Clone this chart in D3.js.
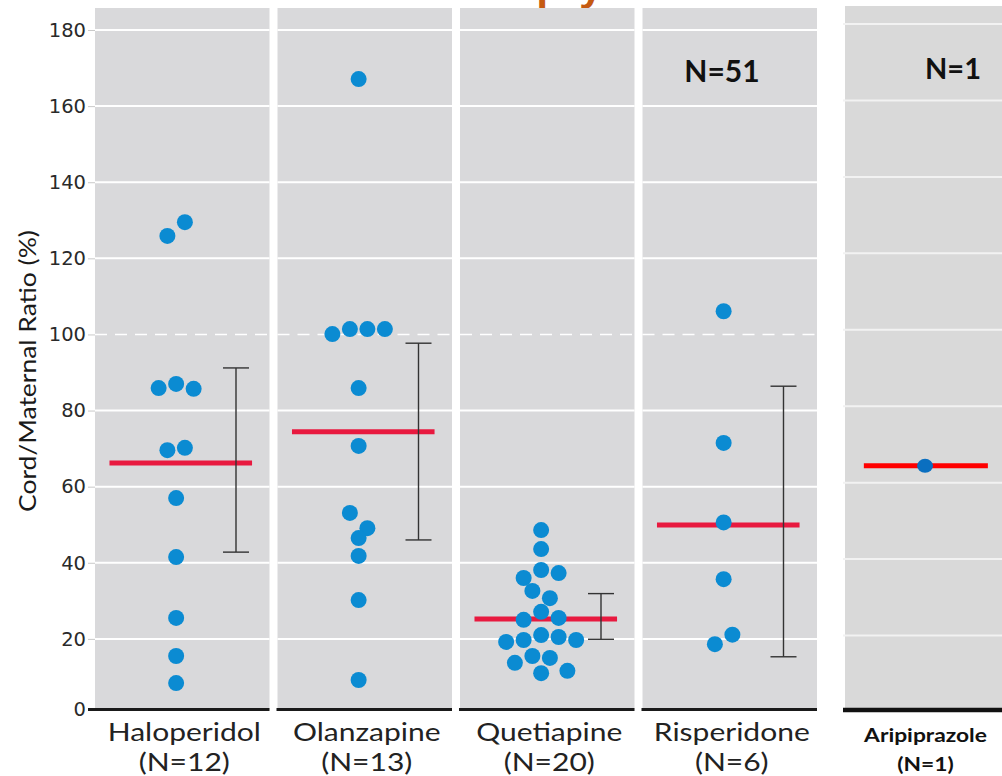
<!DOCTYPE html>
<html>
<head>
<meta charset="utf-8">
<script src="https://cdn.jsdelivr.net/npm/d3@7"></script>
<style>
  body { margin: 0; background: #fff; }
  svg { display: block; }
</style>
</head>
<body>
<svg id="chart" width="1002" height="776"></svg>
<script>
// ---- data -------------------------------------------------------------
const drugs = ["Haloperidol", "Olanzapine", "Quetiapine", "Risperidone"];
const drugCounts = ["(N=12)", "(N=13)", "(N=20)", "(N=6)"];

// cord/maternal ratios (%), listed left-to-right within each swarm row
const haloperidol = [125.9, 129.5, 85.9, 87.0, 85.7, 69.6, 70.2, 57.0, 41.5, 25.5, 15.5, 8.4];
const olanzapine  = [167.1, 100.1, 101.4, 101.4, 101.4, 85.9, 70.7, 53.1, 49.1, 46.5, 41.8, 30.2, 9.2];
const quetiapine  = [48.6, 43.6, 36.0, 38.1, 37.3, 32.6, 30.7, 25.0, 27.1, 25.5,
                     19.2, 19.7, 21.0, 20.5, 19.7, 13.7, 15.5, 15.0, 11.6, 11.0];
const risperidone = [106.1, 71.5, 50.6, 35.7, 18.6, 21.1];

const groupMeans = [66.2, 74.4, 25.2, 49.9];
const errLow     = [42.8, 46.0, 19.9, 15.3];
const errHigh    = [91.2, 97.7, 31.9, 86.4];
const pooledLabel = "N=51";

const aripName = "Aripiprazole";
const aripCount = "(N=1)";
const aripLabel = "N=1";
const aripiprazole = [64.4];
const aripMean = 64.4;

const yTicks = [0, 20, 40, 60, 80, 100, 120, 140, 160, 180];
const referenceLine = 100;
const chartTitle = "Antipsychotics";

// ---- setup ------------------------------------------------------------
const svg = d3.select("#chart");
const groups = [haloperidol, olanzapine, quetiapine, risperidone];

const y  = d3.scaleLinear().domain([0, 180]).range([715, 30]);
const y5 = d3.scaleLinear().domain([0, 180]).range([712, 24]);
const x  = d3.scaleBand().domain(drugs).range([95, 817]).paddingInner(0.0438);
const x5 = d3.scaleBand().domain([aripName]).range([845, 1002]);

const panelTop = 8, baseY = 709.5;
const panelFill = "#d9d9db";
const dotBlue = "#0b8bd2";
const meanRed = "#e8193f";
const dotR = 8, slotW = 17.5;
const stretch = 1.2;

// rows of a simple dot swarm: points closer than one dot diameter share a row
function swarm(values, scale) {
  const thr = 2 * dotR / (scale(0) - scale(1));
  const order = d3.range(values.length).sort((a, b) => values[b] - values[a] || a - b);
  const rows = [];
  let cur = null;
  for (const i of order) {
    if (!cur || values[cur.start] - values[i] > thr) { cur = { start: i, members: [] }; rows.push(cur); }
    cur.members.push(i);
  }
  const slot = new Array(values.length);
  rows.forEach(r => {
    r.members.sort((a, b) => a - b);
    r.members.forEach((i, k) => slot[i] = k - (r.members.length - 1) / 2);
  });
  return values.map((v, i) => ({ value: v, slot: slot[i] }));
}

// ---- title (runs off the top edge) ------------------------------------
svg.append("text")
  .attr("x", 455).attr("y", 0)
  .attr("textLength", 285).attr("lengthAdjust", "spacingAndGlyphs")
  .style("font", "bold 36px 'Open Sans'")
  .attr("fill", "#c55a11")
  .text(chartTitle);

// ---- panels -----------------------------------------------------------
const panels = svg.append("g");
drugs.forEach(d => {
  const x0 = x(d), bw = x.bandwidth();
  panels.append("rect")
    .attr("x", x0).attr("y", panelTop)
    .attr("width", bw).attr("height", baseY - panelTop)
    .attr("fill", panelFill);
  yTicks.filter(t => t > 0 && t !== referenceLine).forEach(t => {
    panels.append("line")
      .attr("x1", x0).attr("x2", x0 + bw)
      .attr("y1", y(t)).attr("y2", y(t))
      .attr("stroke", "#fff").attr("stroke-width", 2);
  });
  panels.append("line")
    .attr("x1", x0).attr("x2", x0 + bw)
    .attr("y1", y(referenceLine)).attr("y2", y(referenceLine))
    .attr("stroke", "#fff").attr("stroke-width", 1.6)
    .attr("stroke-dasharray", "12,8");
  panels.append("line")
    .attr("x1", x0 - 1).attr("x2", x0 + bw)
    .attr("y1", baseY).attr("y2", baseY)
    .attr("stroke", "#1a1a1a").attr("stroke-width", 3);
});

// aripiprazole panel
{
  const x0 = x5(aripName), bw = x5.bandwidth();
  panels.append("rect")
    .attr("x", x0).attr("y", 6)
    .attr("width", bw).attr("height", baseY - 6)
    .attr("fill", "#d9d9d9");
  yTicks.filter(t => t > 0).forEach(t => {
    panels.append("line")
      .attr("x1", x0 - 2).attr("x2", x0 + bw)
      .attr("y1", y5(t)).attr("y2", y5(t))
      .attr("stroke", "#f2f2f2").attr("stroke-width", 2);
  });
  panels.append("line")
    .attr("x1", x0 - 2).attr("x2", x0 + bw)
    .attr("y1", 710).attr("y2", 710)
    .attr("stroke", "#111").attr("stroke-width", 4.5);
}

// ---- y axis -----------------------------------------------------------
const axis = svg.append("g")
  .attr("transform", "translate(95,0)")
  .call(d3.axisLeft(y).tickValues(yTicks).tickSize(7).tickPadding(2));
axis.select(".domain").remove();
axis.selectAll(".tick line").attr("stroke", "#c9c9c9");
axis.selectAll(".tick text")
  .attr("fill", "#2a2a2a")
  .style("font", "19.5px 'DejaVu Sans'");
// the zero tick sits on the panel baseline
axis.selectAll(".tick").filter(d => d === 0)
  .attr("transform", `translate(0,${baseY})`)
  .select("line").attr("stroke", "#1a1a1a").attr("stroke-width", 3);

svg.append("text")
  .attr("transform", "translate(36,371) rotate(-90) scale(1.15,1)")
  .attr("text-anchor", "middle")
  .attr("fill", "#1a1a1a")
  .style("font", "23px Lato")
  .text("Cord/Maternal Ratio (%)");

// ---- means, error bars, points -----------------------------------------
const marks = svg.append("g");
drugs.forEach((d, i) => {
  const x0 = x(d), bw = x.bandwidth();
  marks.append("line")
    .attr("x1", x0 + 0.083 * bw).attr("x2", x0 + 0.9 * bw)
    .attr("y1", y(groupMeans[i])).attr("y2", y(groupMeans[i]))
    .attr("stroke", meanRed).attr("stroke-width", 5);

  const ex = x0 + 0.808 * bw;
  const eb = marks.append("g").attr("stroke", "#333").attr("stroke-width", 1.4);
  eb.append("line").attr("x1", ex).attr("x2", ex).attr("y1", y(errHigh[i])).attr("y2", y(errLow[i]));
  [errHigh[i], errLow[i]].forEach(v =>
    eb.append("line").attr("x1", ex - 13).attr("x2", ex + 13).attr("y1", y(v)).attr("y2", y(v)));

  const cx = x0 + 0.465 * bw;
  marks.selectAll(null)
    .data(swarm(groups[i], y))
    .join("circle")
    .attr("cx", p => cx + p.slot * slotW)
    .attr("cy", p => y(p.value))
    .attr("r", dotR)
    .attr("fill", dotBlue);
});

// aripiprazole single value
{
  const x0 = x5(aripName), bw = x5.bandwidth();
  marks.append("line")
    .attr("x1", x0 + 0.12 * bw).attr("x2", x0 + 0.91 * bw)
    .attr("y1", y5(aripMean)).attr("y2", y5(aripMean))
    .attr("stroke", "#ff0000").attr("stroke-width", 5);
  marks.selectAll(null)
    .data(aripiprazole)
    .join("ellipse")
    .attr("cx", x0 + 0.51 * bw)
    .attr("cy", v => y5(v))
    .attr("rx", 8).attr("ry", 7)
    .attr("fill", "#0a6fc0");
}

// ---- labels -----------------------------------------------------------
svg.append("text")
  .attr("x", 722).attr("y", 82)
  .attr("text-anchor", "middle")
  .attr("fill", "#111")
  .style("font", "bold 30px Lato")
  .text(pooledLabel);

svg.append("text")
  .attr("x", 953).attr("y", 79)
  .attr("text-anchor", "middle")
  .attr("fill", "#111")
  .style("font", "bold 29px Lato")
  .text(aripLabel);

drugs.forEach((d, i) => {
  const cx = x(d) + x.bandwidth() / 2 + 2;
  svg.append("text")
    .attr("transform", `translate(${cx},741) scale(${stretch},1)`)
    .attr("text-anchor", "middle").attr("fill", "#222")
    .style("font", "25px Lato")
    .text(d);
  svg.append("text")
    .attr("transform", `translate(${cx},771) scale(${stretch},1)`)
    .attr("text-anchor", "middle").attr("fill", "#222")
    .style("font", "25px Lato")
    .text(drugCounts[i]);
});

{
  const cx = x5(aripName) + x5.bandwidth() / 2 + 2;
  svg.append("text")
    .attr("transform", `translate(${cx},742) scale(${stretch},1)`)
    .attr("text-anchor", "middle").attr("fill", "#111")
    .style("font", "bold 19px Lato")
    .text(aripName);
  svg.append("text")
    .attr("transform", `translate(${cx},771) scale(${stretch},1)`)
    .attr("text-anchor", "middle").attr("fill", "#111")
    .style("font", "bold 19px Lato")
    .text(aripCount);
}
</script>
</body>
</html>
